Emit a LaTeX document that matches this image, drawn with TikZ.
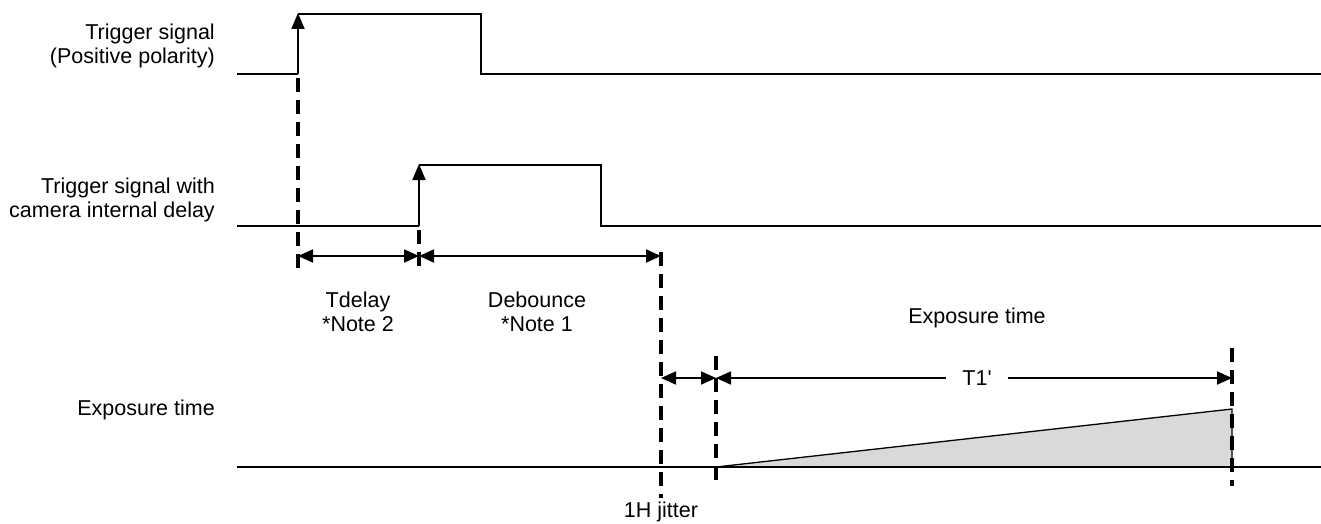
\documentclass[tikz,border=0pt]{standalone}
\usepackage{fontspec}
\setmainfont{Liberation Sans}[Ligatures=TeXOff]
\usetikzlibrary{arrows.meta}
\begin{document}
\begin{tikzpicture}[x=1pt,y=-1pt,
  sig/.style={line width=1.8pt},
  guide/.style={line width=3.2pt,dash pattern=on 14pt off 8pt},
  dim/.style={line width=1.8pt,{Triangle[length=15pt,width=13pt]}-{Triangle[length=15pt,width=13pt]}},
  edge/.style={line width=1.8pt,-{Triangle[length=16pt,width=13pt]}},
  lbl/.style={font=\fontsize{21.5}{23.5}\selectfont,inner sep=0pt,align=right,anchor=east},
  txt/.style={font=\fontsize{21.5}{23.5}\selectfont,inner sep=0pt,align=center}]
\useasboundingbox (0,0) rectangle (1321,524);
% labels
\node[lbl] (l1) at (215,46) {Trigger signal\\(Positive polarity)};
\node[lbl] (l2) at (215,200) {Trigger signal with\\camera internal delay};
\node[lbl] (l3) at (215,410) {Exposure time};
% signal 1
\draw[sig] (237,74) -- (298,74);
\draw[sig] (298,14) -- (481,14) -- (481,74) -- (1321,74);
\draw[edge] (298,74) -- (298,13);
% signal 2
\draw[sig] (237,226) -- (419,226);
\draw[sig] (419,165) -- (601,165) -- (601,226) -- (1321,226);
\draw[edge] (419,226) -- (419,164);
% exposure
\fill[gray!30] (716,467) -- (1232,409) -- (1232,467) -- cycle;
\draw[line width=1.3pt] (716,467) -- (1232,409) -- (1232,467);
\draw[sig] (237,467) -- (1321,467);
% guides
\draw[guide] (298,78) -- (298,272);
\draw[guide] (419,230) -- (419,272);
\draw[guide] (661,252) -- (661,498);
\draw[guide] (716,356) -- (716,480);
\draw[guide] (1232,348) -- (1232,486);
% dimension arrows
\coordinate (a0) at (298,256);
\coordinate (a1) at (419,256);
\coordinate (a2) at (661,256);
\draw[dim] (a0) -- (a1);
\draw[dim] (a1) -- (a2);
\coordinate (b0) at (661,378);
\coordinate (b1) at (716,378);
\coordinate (b2) at (1232,378);
\draw[dim] (b0) -- (b1);
\draw[dim] (b1) -- (b2);
\node[txt,fill=white,inner xsep=16pt,inner ysep=2pt] (t1p) at (977,378) {T1'};
% texts
\node[txt] (td) at (358,312) {Tdelay\\*Note 2};
\node[txt] (db) at (537,312) {Debounce\\*Note 1};
\node[txt] (et) at (977,318) {Exposure time};
\node[txt] (jit) at (661,512) {1H jitter};
\end{tikzpicture}
\end{document}
